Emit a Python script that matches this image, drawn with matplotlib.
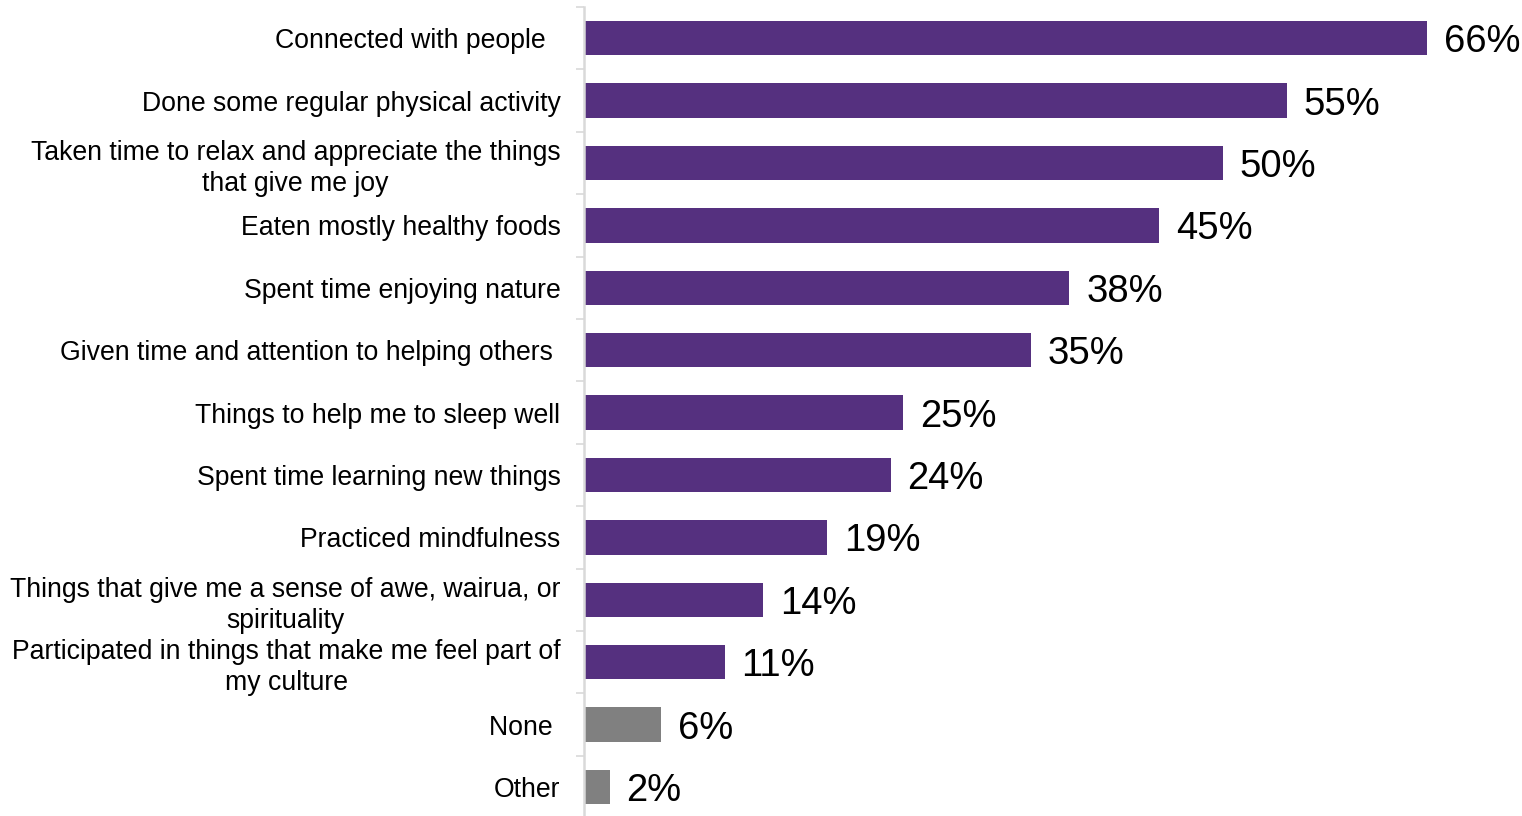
import matplotlib
matplotlib.use("Agg")
import matplotlib.pyplot as plt
import numpy as np

categories = [
    "Connected with people  ",
    "Done some regular physical activity",
    "Taken time to relax and appreciate the things\nthat give me joy",
    "Eaten mostly healthy foods",
    "Spent time enjoying nature",
    "Given time and attention to helping others ",
    "Things to help me to sleep well",
    "Spent time learning new things",
    "Practiced mindfulness",
    "Things that give me a sense of awe, wairua, or\nspirituality",
    "Participated in things that make me feel part of\nmy culture",
    "None ",
    "Other",
]
values = [66, 55, 50, 45, 38, 35, 25, 24, 19, 14, 11, 6, 2]
bar_colors = ["#55307F"] * 11 + ["#808080"] * 2

plt.rcParams['font.family'] = ['Liberation Sans', 'DejaVu Sans']

W, H = 1522, 816
fig = plt.figure(figsize=(W / 100, H / 100), dpi=100)
px_per_unit = (1428 - 585) / 66.0
xmax = 72
ax_left = 584 / W
ax_width = xmax * px_per_unit / W
ax_top = 7
ax_h = 13 * 62.4
ax = fig.add_axes([ax_left, 1 - (ax_top + ax_h) / H, ax_width, ax_h / H])

y = np.arange(len(categories))
ax.barh(y, values, height=0.55, color=bar_colors, left=0)
ax.set_ylim(len(categories) - 0.5, -0.5)
ax.set_xlim(0, xmax)

for yi, v in zip(y, values):
    ax.text(v + 17 / px_per_unit, yi, f"{v}%", va='center_baseline', ha='left',
            fontsize=27.5, color='black', clip_on=False)

ax.set_yticks(y)
ax.set_yticklabels(categories, fontsize=19.2, multialignment='center', linespacing=1.25)
ax.tick_params(axis='y', which='major', length=0, pad=17)
ax.set_yticks(np.arange(len(categories)) + 0.5 - 1, minor=True)
ax.tick_params(axis='y', which='minor', length=5.5, width=1.2, color='#d9d9d9', direction='out')
ax.set_xticks([])

for s in ['top', 'right', 'bottom']:
    ax.spines[s].set_visible(False)
ax.spines['left'].set_color('#d9d9d9')
ax.spines['left'].set_linewidth(1.8)

fig.savefig("out.png", dpi=100)
